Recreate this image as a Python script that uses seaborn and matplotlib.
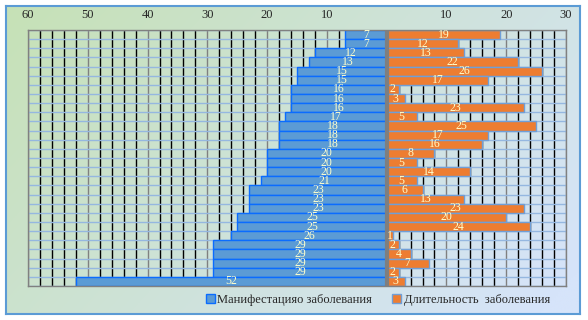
import numpy as np
import pandas as pd
import matplotlib.pyplot as plt
import matplotlib.ticker as mtick
from matplotlib.patches import Patch
import seaborn as sns

# values, top row first
onset = [7, 7, 12, 13, 15, 15, 16, 16, 16, 17, 18, 18, 18, 20,
         20, 20, 21, 23, 23, 23, 25, 25, 26, 29, 29, 29, 29, 52]
duration = [19, 12, 13, 22, 26, 17, 2, 3, 23, 5, 25, 17, 16, 8,
            5, 14, 5, 6, 13, 23, 20, 24, 1, 2, 4, 7, 2, 3]
rows = [str(i) for i in range(1, len(onset) + 1)]
xticks = [-60, -50, -40, -30, -20, -10, 10, 20, 30]
series_names = ['Манифестацияо заболевания', 'Длительность  заболевания']

df = pd.DataFrame({'row': rows, 'onset': onset, 'duration': duration})
df['left'] = -df['onset']

sns.set_style('white')
plt.rcParams['font.family'] = ['Liberation Serif', 'DejaVu Serif']

W, H = 588, 320
fig = plt.figure(figsize=(W / 100, H / 100), dpi=100, facecolor='white')

# gradient background with blue border
bg = fig.add_axes([6 / W, 6 / H, 574 / W, 308 / H])
gx, gy = np.meshgrid(np.linspace(0, 1, 300), np.linspace(0, 1, 160))
t = np.clip(0.7 * gx + 0.35 * gy, 0, 1)[..., None]
c0 = np.array([198, 225, 182]) / 255
c1 = np.array([214, 228, 250]) / 255
bg.imshow(c0 + (c1 - c0) * t, aspect='auto', extent=(0, 1, 1, 0))
bg.set_xticks([])
bg.set_yticks([])
for s in bg.spines.values():
    s.set_color('#5b9bd5')
    s.set_linewidth(1.5)

ax = fig.add_axes([28 / W, 34 / H, 538 / W, 256 / H])
ax.patch.set_alpha(0)

sns.barplot(data=df, x='left', y='row', orient='h', width=1.0, color='#5b9bd5',
            saturation=1, edgecolor='#0a6cff', linewidth=1, ax=ax, zorder=2)
sns.barplot(data=df, x='duration', y='row', orient='h', width=1.0, color='#ed7d31',
            saturation=1, edgecolor='#6f9fd8', linewidth=1, ax=ax, zorder=2)

ax.set_xlim(-60, 30)
ax.set_ylim(len(rows) - 0.5, -0.5)
ax.set_xticks(xticks)
ax.xaxis.set_minor_locator(mtick.MultipleLocator(2))
ax.xaxis.set_major_formatter(mtick.FuncFormatter(lambda v, p: f'{abs(v):.0f}'))
ax.xaxis.tick_top()
ax.tick_params(axis='x', which='both', length=0, pad=6.5, labelsize=9)
ax.set_yticks([])
ax.set_xlabel('')
ax.set_ylabel('')

ax.grid(False)
for x in range(-60, 31, 2):
    ax.axvline(x, color='#808080' if x % 10 == 0 else 'black', lw=1, zorder=0)
for y in np.arange(-0.5, len(rows), 1):
    ax.axhline(y, color='#95b7e0', lw=1, zorder=0.5)
ax.axvline(0, color='#7f7f7f', lw=3, zorder=4)
for s in ax.spines.values():
    s.set_color('#808080')
    s.set_linewidth(1)

for i, (a, b) in enumerate(zip(onset, duration)):
    ax.text(-a / 2, i, str(a), ha='center', va='center', fontsize=8.5,
            color='#ffffcc', zorder=5)
    ax.text(b / 2, i, str(b), ha='center', va='center', fontsize=8.5,
            color='#ffffcc', zorder=5)

handles = [Patch(facecolor='#5b9bd5', edgecolor='#0a6cff', lw=1),
           Patch(facecolor='#ed7d31', edgecolor='#6f9fd8', lw=1)]
fig.legend(handles, series_names, loc='center', ncol=2, frameon=False,
           bbox_to_anchor=(378 / W, 1 - 300 / H), fontsize=9,
           handlelength=0.7, handleheight=0.7, handletextpad=0.2,
           columnspacing=1.6)

fig.savefig('out.png', dpi=100, facecolor='white')
